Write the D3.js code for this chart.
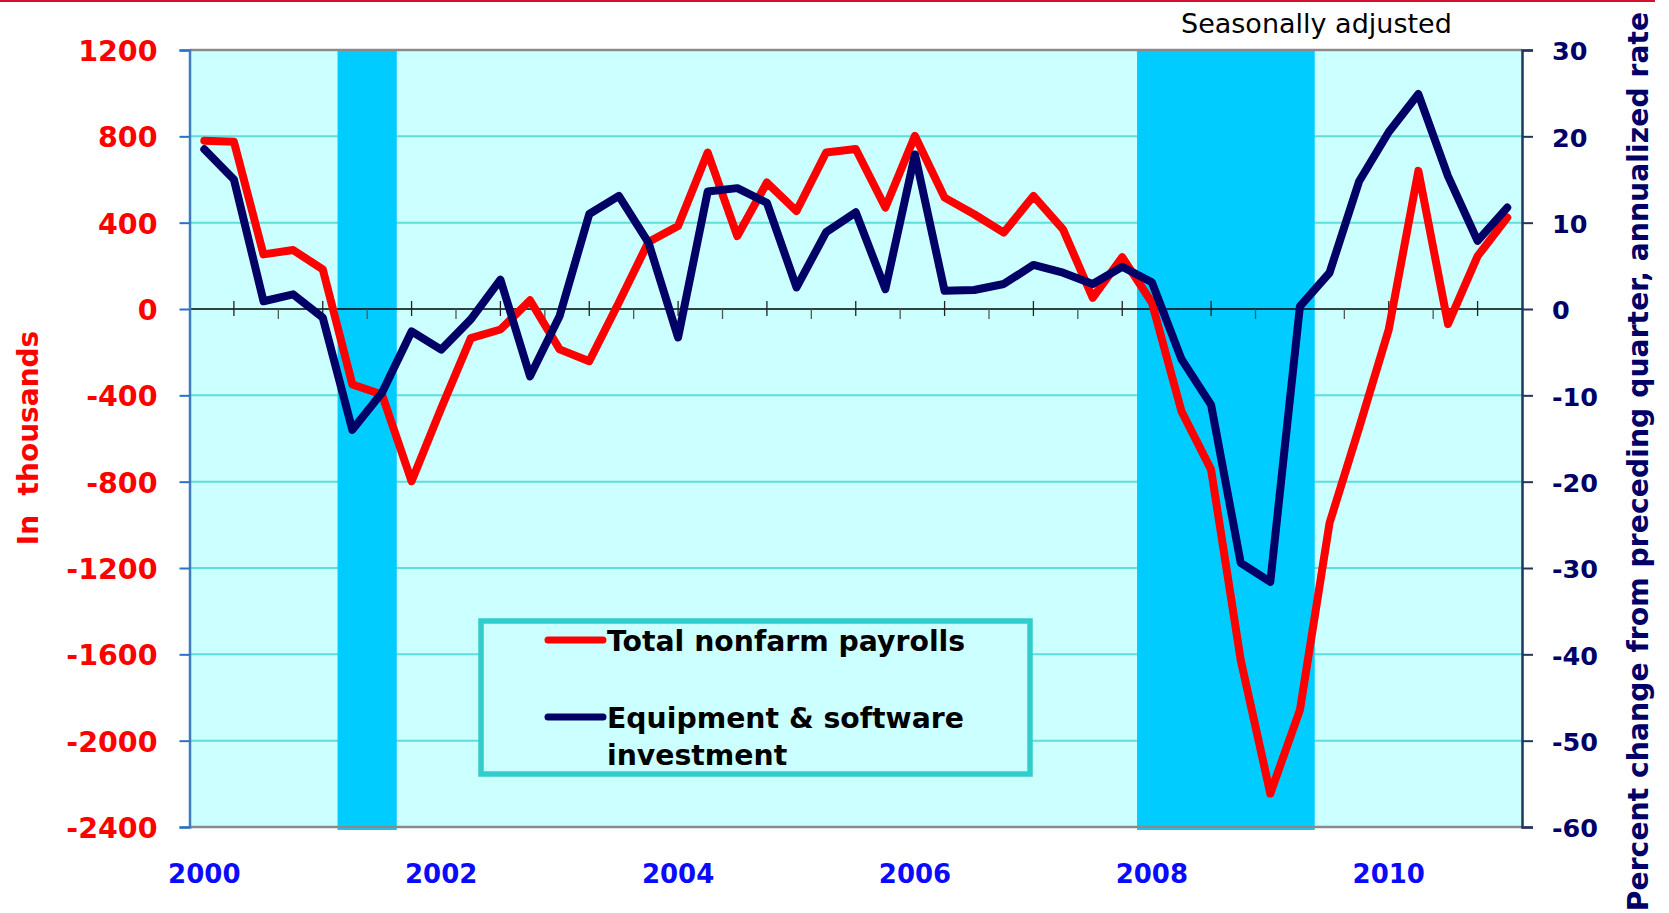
<!DOCTYPE html>
<html>
<head>
<meta charset="utf-8">
<script src="https://cdn.jsdelivr.net/npm/d3@7"></script>
<style>
  html, body { margin: 0; padding: 0; background: #ffffff; }
  svg { display: block; }
</style>
</head>
<body>
<svg id="chart" width="1669" height="913"></svg>
<script>
// ---------------- data ----------------
const quarters = [
  "2000Q1","2000Q2","2000Q3","2000Q4","2001Q1","2001Q2","2001Q3","2001Q4",
  "2002Q1","2002Q2","2002Q3","2002Q4","2003Q1","2003Q2","2003Q3","2003Q4",
  "2004Q1","2004Q2","2004Q3","2004Q4","2005Q1","2005Q2","2005Q3","2005Q4",
  "2006Q1","2006Q2","2006Q3","2006Q4","2007Q1","2007Q2","2007Q3","2007Q4",
  "2008Q1","2008Q2","2008Q3","2008Q4","2009Q1","2009Q2","2009Q3","2009Q4",
  "2010Q1","2010Q2","2010Q3","2010Q4","2011Q1"
];
// Total nonfarm payrolls, change in thousands (left axis)
const payrolls = [
  780, 775, 253, 273, 184, -350, -396, -798,
  -460, -135, -95, 40, -187, -242, 30, 310,
  385, 725, 338, 586, 454, 725, 741, 470,
  802, 516, 439, 354, 524, 369, 52, 240,
  30, -474, -744, -1626, -2245, -1858, -992, -550,
  -95, 640, -70, 245, 424
];
// Equipment & software investment, % change annualized (right axis)
const equipment = [
  18.5, 15.0, 0.9, 1.7, -1.0, -14.0, -9.7, -2.6,
  -4.7, -1.2, 3.4, -7.8, -0.8, 11.0, 13.1, 7.7,
  -3.3, 13.6, 14.0, 12.3, 2.5, 8.9, 11.2, 2.3,
  17.9, 2.1, 2.2, 2.9, 5.1, 4.2, 2.9, 4.9,
  3.1, -5.8, -11.1, -29.4, -31.6, 0.3, 4.2, 14.8,
  20.5, 24.9, 15.4, 7.9, 11.75
];
const leftTicks = [1200, 800, 400, 0, -400, -800, -1200, -1600, -2000, -2400];
const rightTicks = [30, 20, 10, 0, -10, -20, -30, -40, -50, -60];
const yearLabels = ["2000","2002","2004","2006","2008","2010"];
const yearQuarters = ["2000Q1","2002Q1","2004Q1","2006Q1","2008Q1","2010Q1"];
const recessionStart = ["2001Q2","2008Q1"];
const recessionEnd   = ["2001Q3","2009Q2"];
const seriesNames = ["Total nonfarm payrolls", "Equipment & software investment"];

// ---------------- layout ----------------
const svg = d3.select("#chart");
const L = 189.5, R = 1522, T = 50, B = 827;
const FONT = "'DejaVu Sans', Verdana, sans-serif";

const x = d3.scaleBand().domain(quarters).range([L, R]).padding(0);
const bw = x.bandwidth();
const xc = q => x(q) + bw / 2;
const xi = d3.scaleLinear().domain([-0.5, quarters.length - 0.5]).range([L, R]);
const yL = d3.scaleLinear().domain([-2400, 1200]).range([B, T]);
const yR = d3.scaleLinear().domain([-60, 30]).range([B, T]);
const plain = d => String(d);

// top red rule
svg.append("line").attr("x1", 0).attr("x2", 1655).attr("y1", 1).attr("y2", 1)
  .attr("stroke", "#d4102a").attr("stroke-width", 2);

// plot background
svg.append("rect").attr("x", L).attr("y", T).attr("width", R - L).attr("height", B - T)
  .attr("fill", "#ccffff");

// gridlines
svg.append("g").selectAll("line")
  .data(leftTicks.filter(d => d !== 1200 && d !== -2400 && d !== 0))
  .join("line")
  .attr("x1", L).attr("x2", R)
  .attr("y1", d => yL(d)).attr("y2", d => yL(d))
  .attr("stroke", "#5fdcdc").attr("stroke-width", 2);

// recession bands
svg.append("g").selectAll("rect")
  .data(d3.range(recessionStart.length))
  .join("rect")
  .attr("x", i => x(recessionStart[i]))
  .attr("width", i => x(recessionEnd[i]) + bw - x(recessionStart[i]))
  .attr("y", T).attr("height", B - T + 3)
  .attr("fill", "#00ccff");

// top & bottom border
svg.append("line").attr("x1", L).attr("x2", R).attr("y1", T).attr("y2", T)
  .attr("stroke", "#8a8a8a").attr("stroke-width", 2.5);
svg.append("line").attr("x1", L).attr("x2", R).attr("y1", B).attr("y2", B)
  .attr("stroke", "#8a8a8a").attr("stroke-width", 2.5);

// zero line with tick marks
const y0 = yL(0);
svg.append("line").attr("x1", L).attr("x2", R).attr("y1", y0).attr("y2", y0)
  .attr("stroke", "#000").attr("stroke-width", 1.5);
const tickIdx = d3.range(1, quarters.length - 0.5, 1.5);
svg.append("g").selectAll("line")
  .data(tickIdx)
  .join("line")
  .attr("x1", d => xi(d)).attr("x2", d => xi(d))
  .attr("y1", (d, i) => i % 2 === 0 ? y0 - 8 : y0)
  .attr("y2", (d, i) => i % 2 === 0 ? y0 + 7 : y0 + 10)
  .attr("stroke", (d, i) => i % 2 === 0 ? "#222" : "#555")
  .attr("stroke-width", 1.3);

// left axis
const gL = svg.append("g").attr("transform", `translate(${L},0)`)
  .call(d3.axisLeft(yL).tickValues(leftTicks).tickSize(10).tickPadding(22).tickFormat(plain));
gL.select(".domain").attr("stroke", "#3e7cba").attr("stroke-width", 2.5);
gL.selectAll(".tick line").attr("stroke", "#2a70c8").attr("stroke-width", 2);
gL.selectAll(".tick text").attr("fill", "#ff0000").attr("font-family", FONT)
  .attr("font-weight", "bold").attr("font-size", 28.5).attr("dy", "0.37em");

// right axis
const gR = svg.append("g").attr("transform", `translate(${R},0)`)
  .call(d3.axisRight(yR).tickValues(rightTicks).tickSize(11).tickPadding(19).tickFormat(plain));
gR.select(".domain").attr("stroke", "#22355f").attr("stroke-width", 2.5);
gR.selectAll(".tick line").attr("stroke", "#22355f").attr("stroke-width", 2);
gR.selectAll(".tick text").attr("fill", "#000066").attr("font-family", FONT)
  .attr("font-weight", "bold").attr("font-size", 25.5).attr("dy", "0.38em");

// x labels
const gX = svg.append("g").attr("transform", `translate(0,${B})`)
  .call(d3.axisBottom(x).tickValues(yearQuarters).tickSize(0)
    .tickFormat(q => yearLabels[yearQuarters.indexOf(q)]));
gX.select(".domain").remove();
gX.selectAll(".tick text").attr("fill", "#0a0aff").attr("font-family", FONT)
  .attr("font-weight", "bold").attr("font-size", 26).attr("y", 56).attr("dy", 0);

// series lines
const linePay = d3.line().x((d, i) => xc(quarters[i])).y(d => yL(d));
const lineEq = d3.line().x((d, i) => xc(quarters[i])).y(d => yR(d));
svg.append("path").datum(payrolls).attr("d", linePay)
  .attr("fill", "none").attr("stroke", "#ff0000").attr("stroke-width", 8)
  .attr("stroke-linejoin", "round").attr("stroke-linecap", "round");
svg.append("path").datum(equipment).attr("d", lineEq)
  .attr("fill", "none").attr("stroke", "#000066").attr("stroke-width", 8)
  .attr("stroke-linejoin", "round").attr("stroke-linecap", "round");

// legend
const lg = svg.append("g");
lg.append("rect").attr("x", 481).attr("y", 621).attr("width", 549).attr("height", 153)
  .attr("fill", "#ccffff").attr("stroke", "#33cccc").attr("stroke-width", 5.5);
lg.append("line").attr("x1", 548).attr("x2", 603).attr("y1", 640).attr("y2", 640)
  .attr("stroke", "#ff0000").attr("stroke-width", 7).attr("stroke-linecap", "round");
lg.append("line").attr("x1", 548).attr("x2", 603).attr("y1", 717).attr("y2", 717)
  .attr("stroke", "#000066").attr("stroke-width", 7).attr("stroke-linecap", "round");
lg.append("text").attr("x", 607).attr("y", 651).text(seriesNames[0])
  .attr("font-family", FONT).attr("font-weight", "bold").attr("font-size", 28.3).attr("fill", "#000");
const t2 = lg.append("text").attr("font-family", FONT).attr("font-weight", "bold")
  .attr("font-size", 28.3).attr("fill", "#000");
t2.append("tspan").attr("x", 607).attr("y", 728).text("Equipment & software");
t2.append("tspan").attr("x", 607).attr("y", 765).text("investment");

// titles
svg.append("text").attr("transform", "translate(38,438) rotate(-90)")
  .attr("text-anchor", "middle").attr("font-family", FONT).attr("font-weight", "bold")
  .attr("font-size", 28).attr("fill", "#ff0000")
  .style("white-space", "pre").text("In  thousands");
svg.append("text").attr("transform", "translate(1648,461.5) rotate(-90)")
  .attr("text-anchor", "middle").attr("font-family", FONT).attr("font-weight", "bold")
  .attr("font-size", 28.3).attr("fill", "#000066")
  .text("Percent change from preceding quarter, annualized rate");
svg.append("text").attr("x", 1181).attr("y", 33)
  .attr("font-family", FONT).attr("font-size", 27).attr("fill", "#000")
  .text("Seasonally adjusted");
</script>
</body>
</html>
